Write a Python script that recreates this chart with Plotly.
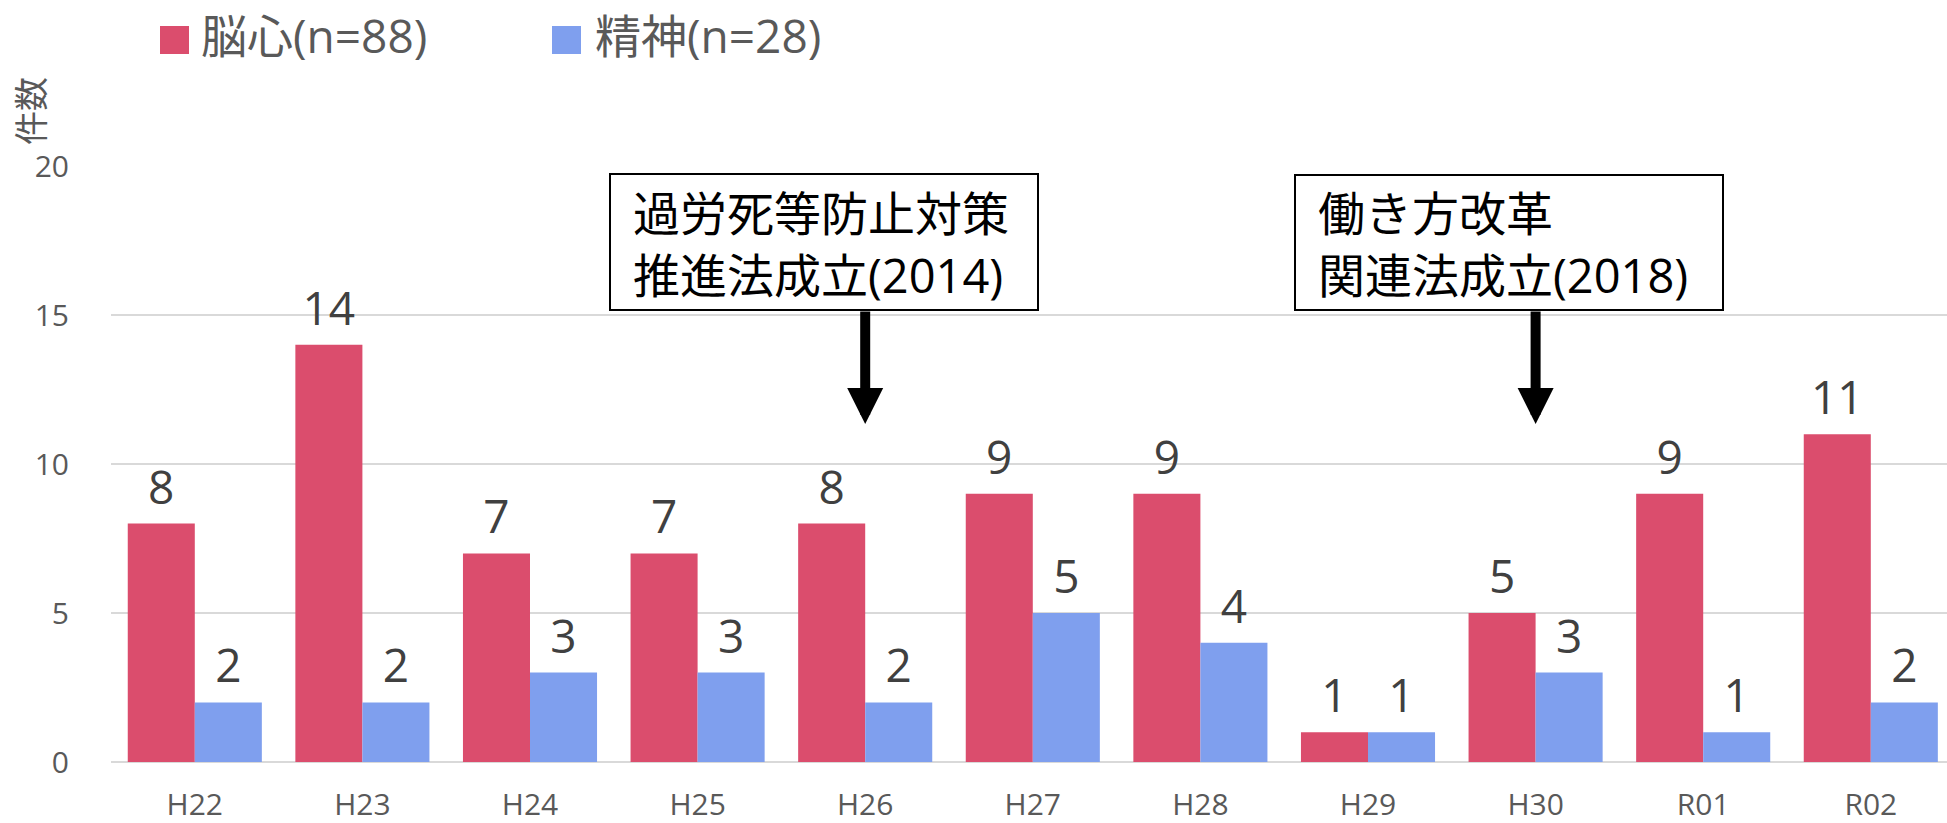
import plotly.graph_objects as go

# ---- data ----
categories = ["H22", "H23", "H24", "H25", "H26", "H27", "H28", "H29", "H30", "R01", "R02"]
brain_heart = [8, 14, 7, 7, 8, 9, 9, 1, 5, 9, 11]
mental = [2, 2, 3, 3, 2, 5, 4, 1, 3, 1, 2]
series_names = ["脳心(n=88)", "精神(n=28)"]
series_colors = ["#DB4D6D", "#7F9FEE"]
y_title = "件数"
events = [
    {"cat": "H26", "lines": ["過労死等防止対策", "推進法成立(2014)"]},
    {"cat": "H30", "lines": ["働き方改革", "関連法成立(2018)"]},
]

# ---- layout geometry (pixels) ----
W, H = 1947, 823
ML, MR, MT, MB = 111, 0, 166, 61
PW, PH = W - ML - MR, H - MT - MB


def px_x(p):
    return (p - ML) / PW


def px_y(p):
    return (H - MB - p) / PH


FONT = "Open Sans, Noto Sans CJK JP, sans-serif"

fig = go.Figure()
for name, vals, col in zip(series_names, [brain_heart, mental], series_colors):
    fig.add_trace(go.Bar(
        x=categories, y=vals, name=name, marker=dict(color=col, line=dict(width=0)),
        showlegend=False, hoverinfo="x+y",
    ))
# value labels (grouped like the bars)
for name, vals in zip(series_names, [brain_heart, mental]):
    fig.add_trace(go.Scatter(
        x=categories, y=vals, name=name, mode="markers+text",
        marker=dict(size=12, color="rgba(0,0,0,0)"),
        text=[str(v) for v in vals], textposition="top center",
        textfont=dict(size=46, color="#404040", family=FONT),
        showlegend=False, hoverinfo="skip", cliponaxis=False,
    ))

shapes = []
annotations = []

# legend (squares + labels)
leg_sq_x = [160, 552]
leg_txt_x = [199, 593]
for name, col, sx, tx in zip(series_names, series_colors, leg_sq_x, leg_txt_x):
    shapes.append(dict(type="rect", xref="paper", yref="paper",
                       x0=px_x(sx), x1=px_x(sx + 29), y0=px_y(54), y1=px_y(26),
                       fillcolor=col, line=dict(width=0)))
    annotations.append(dict(text=name, xref="paper", yref="paper", x=px_x(tx), y=px_y(35),
                            xanchor="left", yanchor="middle", showarrow=False,
                            font=dict(size=46, color="#595959", family=FONT)))

# y-axis title
annotations.append(dict(text=y_title, xref="paper", yref="paper", x=px_x(31), y=px_y(111),
                        xanchor="center", yanchor="middle", textangle=-90, showarrow=False,
                        font=dict(size=34, color="#595959", family=FONT)))

# event boxes
box_px = [(610, 1038, 174, 310), (1295, 1723, 175, 310)]
line_y = [213, 275]
for ev, (x0, x1, y0, y1) in zip(events, box_px):
    shapes.append(dict(type="rect", xref="paper", yref="paper",
                       x0=px_x(x0), x1=px_x(x1), y0=px_y(y1), y1=px_y(y0),
                       fillcolor="white", line=dict(color="black", width=2), layer="above"))
    for line, ly in zip(ev["lines"], line_y):
        annotations.append(dict(text=line, xref="paper", yref="paper",
                                x=px_x(x0 + 21), y=px_y(ly), xanchor="left", yanchor="middle",
                                align="left", showarrow=False,
                                font=dict(size=47, color="black", family=FONT)))
    # arrow
    tail = (H - MB - y1) / PH * 20
    tip = tail - (424 - y1) / PH * 20
    annotations.append(dict(text="", x=ev["cat"], y=tip, xref="x", yref="y",
                            ax=ev["cat"], ay=tail, axref="x", ayref="y",
                            showarrow=True, arrowhead=2, arrowwidth=10, arrowsize=0.72,
                            arrowcolor="black", standoff=0))

fig.update_layout(
    width=W, height=H,
    margin=dict(l=ML, r=MR, t=MT, b=MB, autoexpand=False),
    paper_bgcolor="white", plot_bgcolor="white",
    barmode="group", bargap=0.2, bargroupgap=0,
    scattermode="group", scattergap=0.2,
    font=dict(family=FONT, color="#595959"),
    shapes=shapes, annotations=annotations,
    showlegend=False,
)
fig.update_xaxes(type="category", range=[-0.5, 10.5 - 7.6 / 167.6], showgrid=False,
                 showline=False, ticks="", tickfont=dict(size=30, color="#595959"),
                 ticklabelstandoff=22, automargin=False)
fig.update_yaxes(range=[0, 20], dtick=5, showgrid=True, gridcolor="#D9D9D9", gridwidth=1.5,
                 zeroline=True, zerolinecolor="#D9D9D9", zerolinewidth=2, showline=False,
                 ticks="", tickfont=dict(size=30, color="#595959"), ticklabelstandoff=41,
                 automargin=False)

fig.write_html("out.html", config={"displayModeBar": False},
               post_script="document.body.style.margin='0';")
